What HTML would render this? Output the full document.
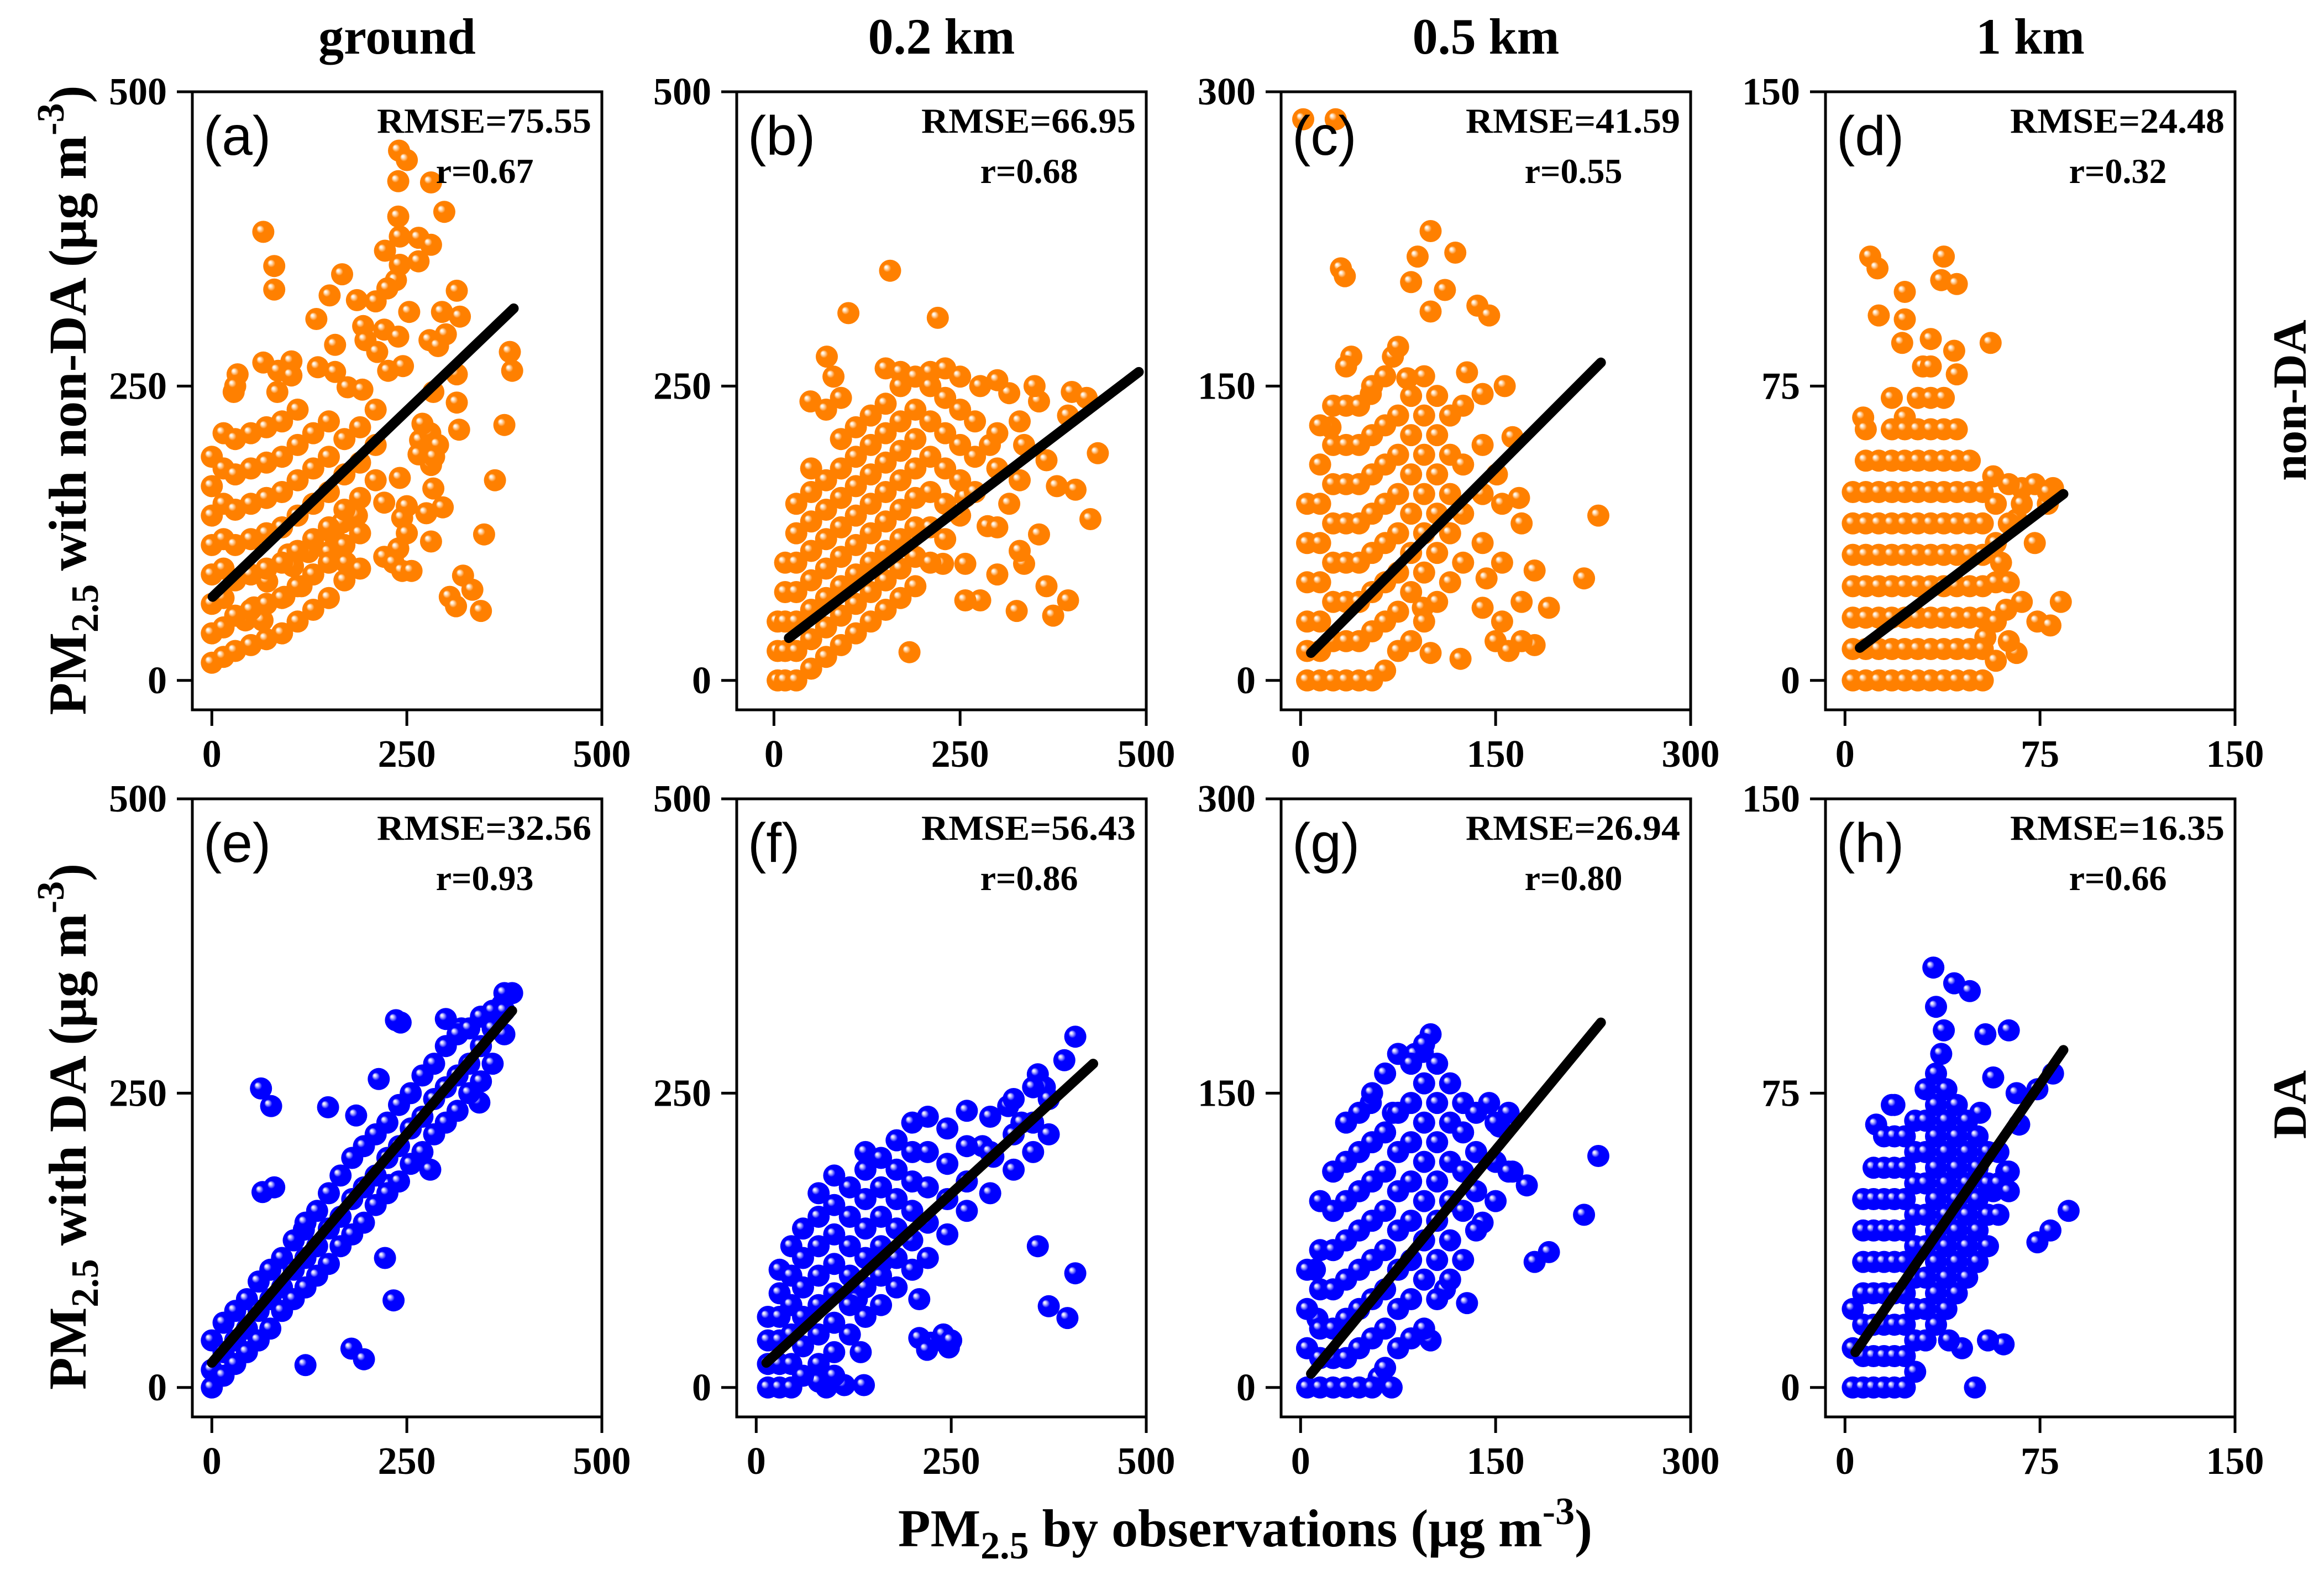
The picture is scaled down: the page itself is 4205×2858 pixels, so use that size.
<!DOCTYPE html>
<html><head><meta charset="utf-8">
<style>
html,body{margin:0;padding:0;background:#fff;}
svg{display:block;}
.serif{font-family:"Liberation Serif","DejaVu Serif",serif;font-weight:bold;}
.sans{font-family:"Liberation Sans","DejaVu Sans",sans-serif;}
</style></head>
<body>
<svg id="fig" xmlns="http://www.w3.org/2000/svg" width="4205" height="2858" viewBox="0 0 4205 2858">
<defs>
<radialGradient id="gradO" cx="0.5" cy="0.5" r="0.5" fx="0.3" fy="0.32">
<stop offset="0" stop-color="#ffffff"/><stop offset="0.1" stop-color="#fff2e0"/><stop offset="0.22" stop-color="#ffc080"/><stop offset="0.36" stop-color="#ff8000"/><stop offset="1" stop-color="#ff8000"/>
</radialGradient>
<radialGradient id="gradB" cx="0.5" cy="0.5" r="0.5" fx="0.3" fy="0.32">
<stop offset="0" stop-color="#ffffff"/><stop offset="0.1" stop-color="#e0e0ff"/><stop offset="0.22" stop-color="#8080ff"/><stop offset="0.36" stop-color="#0000ff"/><stop offset="1" stop-color="#0000ff"/>
</radialGradient>
</defs>
<g id="root"></g>
<text class="serif" font-size="96" text-anchor="middle" transform="translate(155,724) rotate(-90)">PM<tspan font-size="70" dy="22">2.5</tspan><tspan dy="-22"> with non-DA  (μg m</tspan><tspan font-size="70" dy="-40">-3</tspan><tspan dy="40">)</tspan></text>
<text class="serif" font-size="96" text-anchor="middle" transform="translate(155,2038) rotate(-90)">PM<tspan font-size="70" dy="22">2.5</tspan><tspan dy="-22"> with DA  (μg m</tspan><tspan font-size="70" dy="-40">-3</tspan><tspan dy="40">)</tspan></text>
<text class="serif" font-size="96" text-anchor="middle" x="2253" y="2797">PM<tspan font-size="70" dy="22">2.5</tspan><tspan dy="-22"> by observations (μg m</tspan><tspan font-size="70" dy="-40">-3</tspan><tspan dy="40">)</tspan></text>
<text class="serif" font-size="86" text-anchor="middle" transform="translate(4172,724) rotate(-90)">non-DA</text>
<text class="serif" font-size="86" text-anchor="middle" transform="translate(4172,1998) rotate(-90)">DA</text>
</svg>
<script>
const colTitles = ["ground","0.2 km","0.5 km","1 km"];
const panelLetters = ["(a)","(b)","(c)","(d)","(e)","(f)","(g)","(h)"];
const rmseLabels = ["RMSE=75.55","RMSE=66.95","RMSE=41.59","RMSE=24.48","RMSE=32.56","RMSE=56.43","RMSE=26.94","RMSE=16.35"];
const rLabels = ["r=0.67","r=0.68","r=0.55","r=0.32","r=0.93","r=0.86","r=0.80","r=0.66"];
const xMax = [500,500,300,150,500,500,300,150];
const xMin = [-25,-50,-15,-7.5,-25,-25,-15,-7.5];
const yMax = [500,500,300,150,500,500,300,150];
const yMin = [-25,-25,-15,-7.5,-25,-25,-15,-7.5];
const xTicks = [[0,250,500],[0,250,500],[0,150,300],[0,75,150],[0,250,500],[0,250,500],[0,150,300],[0,75,150]];
const yTicks = [[0,250,500],[0,250,500],[0,150,300],[0,75,150],[0,250,500],[0,250,500],[0,150,300],[0,75,150]];
const fitX0 = [1,20,8,5.7,0,13,8,4];
const fitY0 = [71,36,14,8.3,21,21,7,9];
const fitX1 = [387,490,231,84,385,432,231,84];
const fitY1 = [316,262,162,47.5,320,275,186,86];

const ptsA = [[66,381],[80,352],[80,332],[240,450],[250,442],[239,424],[281,423],[239,394],[298,398],[241,377],[265,376],[281,370],[222,365],[241,353],[265,356],[167,345],[151,327],[186,323],[210,322],[236,340],[225,333],[314,331],[295,313],[318,309],[253,313],[134,307],[194,301],[221,298],[239,292],[300,294],[279,289],[290,284],[158,285],[197,289],[382,279],[385,263],[66,270],[85,263],[33,260],[28,245],[84,245],[102,271],[102,259],[136,266],[158,262],[174,249],[193,247],[212,279],[226,263],[245,267],[284,245],[314,260],[314,236],[317,213],[375,217],[363,170],[349,124],[322,89],[334,77],[345,59],[305,71],[313,63],[281,183],[284,163],[296,147],[275,142],[281,118],[221,151],[250,148],[244,138],[250,125],[239,112],[221,105],[233,100],[244,93],[256,93],[267,204],[280,210],[290,200],[265,192],[285,190],[241,172],[270,218],[186,140],[167,134],[156,124],[172,100],[150,109],[124,109],[98,107],[104,97],[115,80],[93,71],[71,84],[54,62],[43,51],[65,51],
[0,15],[0,40],[0,65],[0,90],[0,115],[0,140],[0,165],[0,190],[15,20],[15,45],[15,70],[15,95],[15,120],[15,150],[15,180],[15,210],[30,25],[30,55],[30,85],[30,115],[30,145],[30,175],[30,205],[30,250],[50,30],[50,60],[50,90],[50,120],[50,150],[50,180],[50,210],[70,35],[70,65],[70,95],[70,125],[70,155],[70,185],[70,215],[90,40],[90,70],[90,100],[90,130],[90,160],[90,190],[90,220],[110,50],[110,80],[110,110],[110,140],[110,170],[110,200],[110,230],[130,60],[130,90],[130,120],[130,150],[130,180],[130,210],[150,70],[150,100],[150,130],[150,160],[150,190],[150,220],[170,85],[170,115],[170,145],[170,175],[170,205],[190,95],[190,125],[190,155],[190,185],[190,215],[210,170],[210,200],[210,230]];

const ptsB = [[156,348],[100,312],[220,308],[71,275],[49,237],[80,258],[150,265],[170,262],[190,258],[210,262],[230,265],[250,258],[277,250],[316,244],[356,237],[395,225],[405,162],[425,137],[435,193],[366,187],[336,200],[316,150],[356,124],[336,99],[366,80],[395,68],[375,55],[326,59],[277,68],[257,68],[287,131],[257,156],[227,99],[257,99],[182,24],[300,90],[380,165],[290,200],[400,245],[420,240],[350,250],[300,255],
[5,0],[5,25],[5,50],[15,0],[15,25],[15,50],[15,75],[15,100],[30,0],[30,25],[30,50],[30,75],[30,100],[30,125],[30,150],[50,10],[50,35],[50,60],[50,85],[50,110],[50,135],[50,160],[50,180],[70,20],[70,45],[70,70],[70,95],[70,120],[70,145],[70,170],[70,230],[90,30],[90,55],[90,80],[90,105],[90,130],[90,155],[90,180],[90,205],[90,240],[110,40],[110,65],[110,90],[110,115],[110,140],[110,165],[110,190],[110,215],[130,50],[130,75],[130,100],[130,125],[130,150],[130,175],[130,200],[130,225],[150,60],[150,85],[150,110],[150,135],[150,160],[150,185],[150,210],[150,235],[170,70],[170,95],[170,120],[170,145],[170,170],[170,195],[170,220],[170,250],[190,80],[190,105],[190,130],[190,155],[190,180],[190,205],[190,230],[210,100],[210,130],[210,160],[210,190],[210,220],[210,250],[230,120],[230,150],[230,180],[230,210],[230,240],[250,140],[250,170],[250,200],[250,230],[270,160],[270,190],[270,220],[300,130],[300,180],[300,210],[330,110],[330,170],[330,220]];

const ptsC = [[2,286],[27,286],[31,210],[34,206],[100,229],[119,218],[90,216],[85,203],[111,199],[136,191],[145,186],[100,188],[71,165],[39,165],[23,129],[54,146],[82,154],[128,157],[140,146],[157,150],[163,124],[151,105],[168,93],[191,37],[180,18],[218,52],[229,84],[140,37],[123,11],[100,14],[94,37],[143,52],[180,56],[150,20],[160,15],
[5,0],[5,15],[5,30],[5,50],[5,70],[5,90],[15,0],[15,15],[15,30],[15,50],[15,70],[15,90],[15,110],[15,130],[25,0],[25,20],[25,40],[25,60],[25,80],[25,100],[25,120],[25,140],[35,0],[35,20],[35,40],[35,60],[35,80],[35,100],[35,120],[35,140],[35,160],[45,0],[45,20],[45,40],[45,60],[45,80],[45,100],[45,120],[45,140],[55,0],[55,25],[55,45],[55,65],[55,85],[55,105],[55,125],[55,150],[65,5],[65,30],[65,50],[65,70],[65,90],[65,110],[65,130],[65,155],[75,15],[75,35],[75,55],[75,75],[75,95],[75,115],[75,135],[75,170],[85,20],[85,45],[85,65],[85,85],[85,105],[85,125],[85,145],[95,30],[95,55],[95,75],[95,95],[95,115],[95,135],[95,155],[105,40],[105,65],[105,85],[105,105],[105,125],[105,145],[115,50],[115,75],[115,95],[115,115],[115,135],[125,60],[125,85],[125,110],[125,140],[140,70],[140,95],[140,120],[155,30],[155,60],[155,90],[170,20],[170,40],[170,80]];

const ptsD = [[9.7,108],[12.5,105],[13,93],[23,99],[23,92],[38,108],[37,102],[43,101],[22,86],[33,87],[42,84],[43,78],[56,86],[30,80],[7,67],[23,67],[57,52],[68,49],[80,49],[66,41],[60,30],[74,15],[83,20],[79,14],[66,7],[54,11],[62,18],
[3,0],[3,8],[3,16],[3,24],[3,32],[3,40],[3,48],[8,0],[8,8],[8,16],[8,24],[8,32],[8,40],[8,48],[8,56],[8,64],[13,0],[13,8],[13,16],[13,24],[13,32],[13,40],[13,48],[13,56],[18,0],[18,8],[18,16],[18,24],[18,32],[18,40],[18,48],[18,56],[18,64],[18,72],[23,0],[23,8],[23,16],[23,24],[23,32],[23,40],[23,48],[23,56],[23,64],[28,0],[28,8],[28,16],[28,24],[28,32],[28,40],[28,48],[28,56],[28,64],[28,72],[33,0],[33,8],[33,16],[33,24],[33,32],[33,40],[33,48],[33,56],[33,64],[33,72],[33,80],[38,0],[38,8],[38,16],[38,24],[38,32],[38,40],[38,48],[38,56],[38,64],[38,72],[43,0],[43,8],[43,16],[43,24],[43,32],[43,40],[43,48],[43,56],[43,64],[48,0],[48,8],[48,16],[48,24],[48,32],[48,40],[48,48],[48,56],[53,0],[53,8],[53,16],[53,24],[53,32],[53,40],[53,48],[58,5],[58,15],[58,25],[58,35],[58,45],[63,10],[63,25],[63,40],[63,50],[68,20],[68,45],[73,50],[73,35],[78,45],[78,48]];

const ptsE = [[63,254],[76,239],[149,238],[65,166],[80,170],[118,134],[120,19],[179,33],[195,24],[233,74],[222,110],[242,310],[236,312],[300,313],[320,305],[385,335],[372,325],[343,242],[280,185],[185,231],[214,262],[227,172],
[0,0],[0,15],[0,40],[15,10],[15,30],[15,55],[30,20],[30,40],[30,65],[45,30],[45,50],[45,75],[60,40],[60,65],[60,90],[75,50],[75,75],[75,100],[90,65],[90,85],[90,110],[105,75],[105,100],[105,125],[120,85],[120,110],[120,140],[135,95],[135,120],[135,150],[150,105],[150,135],[150,165],[165,120],[165,145],[165,180],[180,130],[180,160],[180,195],[195,140],[195,170],[195,205],[210,155],[210,180],[210,215],[225,165],[225,195],[225,225],[240,175],[240,205],[240,240],[255,190],[255,220],[255,250],[270,200],[270,230],[270,265],[285,215],[285,245],[285,275],[300,225],[300,255],[300,290],[315,235],[315,265],[315,300],[330,250],[330,275],[330,305],[345,260],[345,290],[345,315],[360,275],[360,305],[360,320],[375,300],[375,320],[375,335]];

const ptsF = [[409,298],[395,278],[361,266],[370,255],[323,239],[340,225],[304,196],[290,205],[361,120],[375,69],[399,59],[409,97],[224,38],[247,34],[209,75],[162,107],[113,2],[138,2],[134,30],[129,75],[100,10],[90,0],[80,5],[209,42],[219,32],[240,45],[250,40],
[15,0],[15,20],[15,40],[15,60],[30,0],[30,20],[30,40],[30,60],[30,80],[30,100],[45,0],[45,20],[45,45],[45,70],[45,95],[45,120],[60,10],[60,35],[60,60],[60,85],[60,110],[60,135],[80,20],[80,45],[80,70],[80,95],[80,120],[80,145],[80,165],[100,30],[100,55],[100,80],[100,105],[100,130],[100,155],[100,180],[120,45],[120,70],[120,95],[120,120],[120,145],[120,170],[140,60],[140,85],[140,110],[140,135],[140,160],[140,185],[140,200],[160,70],[160,95],[160,120],[160,145],[160,170],[160,195],[180,85],[180,110],[180,135],[180,160],[180,185],[180,210],[200,100],[200,125],[200,150],[200,175],[200,200],[200,225],[220,110],[220,140],[220,170],[220,200],[220,230],[245,130],[245,160],[245,190],[245,220],[270,150],[270,175],[270,205],[270,235],[300,165],[300,200],[300,230],[330,185],[330,215],[330,245],[355,200],[355,225],[355,255],[375,215],[375,245]];

const ptsG = [[100,180],[94,171],[88,170],[71,140],[54,145],[229,118],[218,88],[191,69],[180,64],[174,103],[163,110],[153,133],[145,145],[140,84],[128,43],[111,50],[100,24],[60,5],[70,0],[11,60],[13,35],[5,20],
[5,0],[5,20],[5,40],[5,60],[15,0],[15,15],[15,30],[15,50],[15,70],[15,95],[25,0],[25,15],[25,30],[25,50],[25,70],[25,90],[25,110],[35,0],[35,15],[35,35],[35,55],[35,75],[35,95],[35,115],[35,135],[45,0],[45,20],[45,40],[45,60],[45,80],[45,100],[45,120],[45,140],[55,0],[55,25],[55,45],[55,65],[55,85],[55,105],[55,125],[55,150],[65,10],[65,30],[65,50],[65,70],[65,90],[65,110],[65,130],[65,160],[75,20],[75,40],[75,60],[75,80],[75,100],[75,120],[75,140],[75,170],[85,25],[85,45],[85,65],[85,85],[85,105],[85,125],[85,145],[85,165],[95,30],[95,55],[95,75],[95,95],[95,115],[95,135],[95,155],[95,175],[105,45],[105,65],[105,85],[105,105],[105,125],[105,145],[105,165],[115,55],[115,75],[115,95],[115,115],[115,135],[115,155],[125,65],[125,90],[125,110],[125,130],[125,145],[135,80],[135,100],[135,120],[135,140],[150,95],[150,115],[150,135],[160,110],[160,140]];

const ptsH = [[34,107],[42,103],[48,101],[35,97],[38,91],[54,90],[63,91],[37,85],[57,79],[66,75],[74,76],[80,80],[67,67],[18,72],[12,67],[86,45],[79,40],[74,37],[61,11],[50,0],[45,10],[40,12],[55,12],[57,50],[62,55],[52,70],
[3,0],[3,10],[3,20],[7,0],[7,8],[7,16],[7,24],[7,32],[7,40],[7,48],[11,0],[11,8],[11,16],[11,24],[11,32],[11,40],[11,48],[11,56],[15,0],[15,8],[15,16],[15,24],[15,32],[15,40],[15,48],[15,56],[15,64],[19,0],[19,8],[19,16],[19,24],[19,32],[19,40],[19,48],[19,56],[19,64],[19,72],[23,0],[23,8],[23,16],[23,24],[23,32],[23,40],[23,48],[23,56],[23,64],[27,4],[27,12],[27,20],[27,28],[27,36],[27,44],[27,52],[27,60],[27,68],[31,12],[31,20],[31,28],[31,36],[31,44],[31,52],[31,60],[31,68],[31,76],[35,16],[35,24],[35,32],[35,40],[35,48],[35,56],[35,64],[35,72],[35,80],[39,20],[39,28],[39,36],[39,44],[39,52],[39,60],[39,68],[39,76],[43,24],[43,32],[43,40],[43,48],[43,56],[43,64],[43,72],[47,28],[47,36],[47,44],[47,52],[47,60],[47,68],[51,32],[51,40],[51,48],[51,56],[51,64],[55,36],[55,44],[55,52],[55,60],[59,44],[59,52],[59,60],[63,50],[63,55]];

const allPts = [ptsA,ptsB,ptsC,ptsD,ptsE,ptsF,ptsG,ptsH];

const NS = "http://www.w3.org/2000/svg";
const root = document.getElementById('root');
const PW = 741, PH = 1118;
function pLeft(i){ return 348 + 985*(i%4); }
function pTop(i){ return i<4 ? 166 : 1445; }
function sx(i,v){ return pLeft(i) + (v - xMin[i])/(xMax[i]-xMin[i])*PW; }
function sy(i,v){ return pTop(i) + PH - (v - yMin[i])/(yMax[i]-yMin[i])*PH; }
function mk(tag, attrs, parent){
  const e = document.createElementNS(NS, tag);
  for (const k in attrs) e.setAttribute(k, attrs[k]);
  (parent||root).appendChild(e);
  return e;
}
const tickNames = ["a","b","c","d","e","f","g","h"];
for (let c=0;c<4;c++){
  const t = mk('text',{x:pLeft(c)+PW/2, y:97, 'text-anchor':'middle','font-size':92,'class':'serif'});
  
  
  t.textContent = colTitles[c];
}
for (let i=0;i<8;i++){
  const g = mk('g',{});
  
  
  const L = pLeft(i), T = pTop(i);
  const pg = mk('g',{},g);
  
  
  const fill = i<4 ? 'url(#gradO)' : 'url(#gradB)';
  for (const p of allPts[i]){
    const c = mk('circle',{cx:sx(i,p[0]).toFixed(1), cy:sy(i,p[1]).toFixed(1), r:20, fill:fill},pg);
    
    
  }
  const ln = mk('line',{x1:sx(i,fitX0[i]),y1:sy(i,fitY0[i]),x2:sx(i,fitX1[i]),y2:sy(i,fitY1[i]),stroke:'#000','stroke-width':18,'stroke-linecap':'round'},g);
  
  
  const fr = mk('rect',{x:L,y:T,width:PW,height:PH,fill:'none',stroke:'#000','stroke-width':5},g);
  
  
  for (const v of xTicks[i]){
    const x = sx(i,v);
    const tk = mk('line',{x1:x,y1:T+PH,x2:x,y2:T+PH+29,stroke:'#000','stroke-width':5},g);
    
    
    const tl = mk('text',{x:x,y:T+PH+103,'text-anchor':'middle','font-size':70,'class':'serif'},g);
    
    
    tl.textContent = v;
  }
  for (const v of yTicks[i]){
    const y = sy(i,v);
    const tk = mk('line',{x1:L-28,y1:y,x2:L,y2:y,stroke:'#000','stroke-width':5},g);
    
    
    const tl = mk('text',{x:L-46,y:y+23,'text-anchor':'end','font-size':70,'class':'serif'},g);
    
    
    tl.textContent = v;
  }
  const pl = mk('text',{x:L+20,y:T+114,'font-size':100,'class':'sans'},g);
  
  
  pl.textContent = panelLetters[i];
  const rm = mk('text',{x:L+722,y:T+74,'text-anchor':'end','font-size':64,'class':'serif',textLength:388,lengthAdjust:'spacingAndGlyphs'},g);
  
  
  rm.textContent = rmseLabels[i];
  const rr = mk('text',{x:L+529,y:T+165,'text-anchor':'middle','font-size':64,'class':'serif'},g);
  
  
  rr.textContent = rLabels[i];
}
</script>
</body></html>
